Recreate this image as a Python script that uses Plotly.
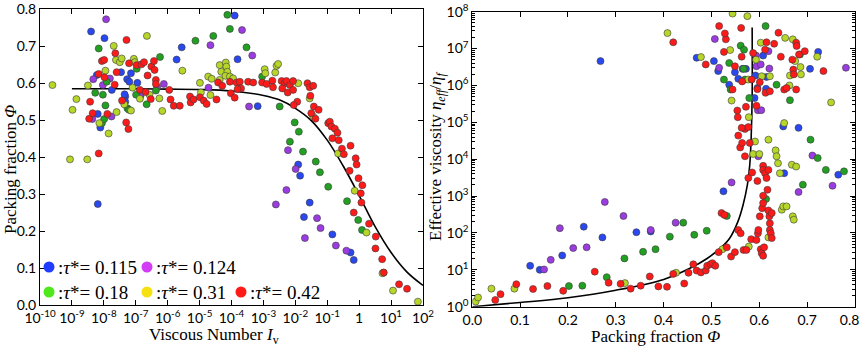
import plotly.graph_objects as go

# ---------------- Left panel: packing fraction vs viscous number ----------------
# log10(Iv) and phi for each tau* series
L_blue_logIv = [-8.40, -8.19, -8.19, -8.11, -8.22, -7.98, -7.75, -7.46, -7.33, -7.33, -7.35, -7.27, -7.20, -7.15,
                -6.95, -5.72, -5.56, -3.81, -3.90, -3.18, -1.91, -1.85, -1.55, -1.73, -0.84, -0.27, -0.17]
L_blue_phi = [0.740, 0.273, 0.517, 0.480, 0.622, 0.722, 0.582, 0.630, 0.564, 0.550, 0.570, 0.611, 0.604, 0.627,
              0.601, 0.664, 0.697, 0.665, 0.783, 0.538, 0.380, 0.350, 0.277, 0.238, 0.191, 0.142, 0.122]

L_purple_logIv = [-7.93, -8.33, -8.36, -8.03, -7.81, -7.76, -6.85, -6.33, -6.12, -4.66, -4.72, -3.67, -3.35, -3.45,
                  -2.61, -2.28, -2.23, -1.99, -1.70, -1.32, -1.21, -0.73, -0.40]
L_purple_phi = [0.773, 0.611, 0.503, 0.595, 0.613, 0.510, 0.566, 0.589, 0.598, 0.703, 0.588, 0.744, 0.675, 0.537,
                0.272, 0.311, 0.419, 0.368, 0.181, 0.235, 0.208, 0.161, 0.147]

L_green_logIv = [-8.16, -8.06, -8.03, -7.99, -7.95, -7.91, -8.27, -7.26, -7.21, -6.97, -6.99, -6.66, -6.37, -6.24,
                 -5.13, -4.57, -4.13, -4.05, -3.53, -3.04, -2.49, -2.17, -2.02, -1.89, -1.76, -1.36, -1.23, -0.97,
                 -0.38, -0.03, 0.09, 0.76]
L_green_phi = [0.694, 0.492, 0.569, 0.503, 0.540, 0.604, 0.574, 0.532, 0.528, 0.639, 0.569, 0.543, 0.580, 0.671,
               0.715, 0.728, 0.785, 0.747, 0.697, 0.618, 0.537, 0.442, 0.494, 0.469, 0.415, 0.388, 0.359, 0.320,
               0.281, 0.230, 0.203, 0.087]

L_yellow_logIv = [-9.61, -9.06, -8.98, -8.86, -8.52, -8.50, -8.14, -7.95, -7.85, -7.69, -7.62, -7.60, -7.50, -7.44,
                  -7.36, -7.15, -7.10, -7.06, -7.03, -6.87, -6.65, -6.57, -6.26, -6.17, -5.54, -4.99, -4.96, -4.73,
                  -4.62, -4.66, -4.37, -4.32, -4.18, -4.16, -4.13, -4.19, -4.05, -3.95, -4.37, -2.96, -2.94, -2.63,
                  -2.59, -2.54, -1.91, -1.55, -1.44, -0.66, -0.14, 0.23, 0.73, 1.06, 1.84]
L_yellow_phi = [0.595, 0.394, 0.528, 0.557, 0.394, 0.594, 0.492, 0.634, 0.464, 0.701, 0.663, 0.522, 0.657, 0.667,
                0.543, 0.526, 0.588, 0.666, 0.657, 0.558, 0.728, 0.569, 0.559, 0.525, 0.634, 0.601, 0.575, 0.618,
                0.612, 0.568, 0.649, 0.631, 0.656, 0.645, 0.631, 0.620, 0.618, 0.613, 0.609, 0.638, 0.627, 0.629,
                0.647, 0.652, 0.600, 0.559, 0.510, 0.410, 0.309, 0.196, 0.086, 0.039, 0.009]

L_red_logIv = [-8.43, -8.46, -8.35, -8.16, -8.16, -8.06, -7.99, -7.98, -7.89, -7.64, -7.60, -7.66, -7.43, -7.29,
               -7.30, -7.23, -7.21, -6.97, -6.87, -6.82, -6.74, -6.69, -6.63, -6.53, -6.51, -6.43, -6.41, -6.37,
               -6.37, -5.95, -5.91, -5.81, -5.62, -5.30, -5.28, -5.19, -4.99, -4.87, -4.78, -4.47, -4.42, -4.29,
               -4.02, -4.05, -3.90, -3.84, -3.74, -3.70, -3.81, -3.48, -3.32, -3.04, -2.90, -2.72, -2.70, -2.43,
               -2.33, -2.28, -2.41, -2.24, -2.17, -2.07, -2.07, -1.94, -2.05, -1.62, -1.55, -1.44, -1.53, -1.50,
               -1.42, -1.27, -1.37, -0.97, -0.92, -0.87, -0.84, -0.76, -0.68, -0.64, -0.54, -0.48, -0.27, -0.11,
               -0.08, -0.02, -0.30, 0.10, 0.05, 0.07, -0.17, 0.31, 0.52, 0.51, 0.72, 0.77, 1.25, 1.50]
L_red_phi = [0.550, 0.504, 0.519, 0.410, 0.625, 0.660, 0.663, 0.616, 0.517, 0.681, 0.630, 0.596, 0.553, 0.717,
             0.494, 0.476, 0.654, 0.649, 0.582, 0.651, 0.657, 0.576, 0.621, 0.557, 0.645, 0.660, 0.636, 0.609,
             0.598, 0.582, 0.556, 0.539, 0.539, 0.564, 0.548, 0.556, 0.562, 0.553, 0.544, 0.556, 0.602, 0.593,
             0.573, 0.604, 0.561, 0.602, 0.604, 0.586, 0.584, 0.604, 0.602, 0.602, 0.598, 0.607, 0.589, 0.606,
             0.600, 0.606, 0.586, 0.575, 0.595, 0.606, 0.582, 0.550, 0.541, 0.600, 0.589, 0.593, 0.566, 0.519,
             0.537, 0.528, 0.504, 0.492, 0.496, 0.483, 0.451, 0.477, 0.466, 0.446, 0.423, 0.408, 0.431, 0.397,
             0.380, 0.343, 0.363, 0.324, 0.302, 0.277, 0.250, 0.220, 0.185, 0.153, 0.124, 0.088, 0.056, 0.044]

# fitted curve
L_fit_logIv = [-9, -8, -7, -6, -5, -4, -3, -2.5, -2, -1.5, -1, -0.5, 0, 0.5, 1, 1.5, 2]
L_fit_phi = [0.585, 0.585, 0.585, 0.584, 0.583, 0.579, 0.567, 0.555, 0.532, 0.499, 0.446, 0.376, 0.296, 0.212,
             0.142, 0.089, 0.053]

# ---------------- Right panel: effective viscosity vs packing fraction ----------------
R_blue_phi = [0.121, 0.141, 0.188, 0.233, 0.272, 0.268, 0.343, 0.373, 0.469, 0.505, 0.514, 0.525, 0.537, 0.549,
              0.556, 0.565, 0.572, 0.590, 0.592, 0.596, 0.608, 0.614, 0.615, 0.650, 0.652, 0.682, 0.706, 0.723, 0.765]
R_blue_logeta = [1.11, 1.00, 1.39, 2.17, 1.88, 6.66, 2.02, 2.04, 6.75, 6.66, 6.39, 3.13, 6.02, 6.36,
                 6.18, 6.45, 6.45, 5.66, 6.27, 5.93, 6.81, 5.91, 6.23, 4.89, 3.62, 4.85, 6.45, 6.91, 3.58]

R_purple_phi = [0.150, 0.164, 0.183, 0.211, 0.239, 0.277, 0.316, 0.373, 0.425, 0.507, 0.516, 0.542, 0.593, 0.594,
                0.597, 0.603, 0.604, 0.619, 0.621, 0.598, 0.711, 0.682, 0.753, 0.781]
R_purple_logeta = [1.01, 1.27, 2.13, 1.59, 1.61, 2.84, 2.46, 2.08, 2.28, 7.26, 6.48, 3.37, 6.81, 6.52,
                   5.33, 6.57, 5.33, 6.93, 6.46, 4.08, 4.10, 3.11, 3.28, 6.48]

R_green_phi = [0.202, 0.230, 0.281, 0.318, 0.357, 0.383, 0.413, 0.441, 0.464, 0.490, 0.532, 0.526, 0.537, 0.540,
               0.561, 0.567, 0.568, 0.570, 0.579, 0.613, 0.614, 0.636, 0.664, 0.685, 0.691, 0.707, 0.722, 0.739, 0.777]
R_green_logeta = [0.56, 0.57, 0.80, 1.31, 1.49, 1.56, 1.90, 2.28, 1.95, 2.06, 2.46, 6.16, 6.61, 5.89,
                  7.08, 6.45, 6.97, 6.16, 5.66, 7.61, 2.92, 6.02, 5.60, 6.84, 3.31, 4.53, 4.03, 3.71, 3.67]

R_yellow_phi = [0.007, 0.012, 0.040, 0.088, 0.319, 0.408, 0.426, 0.478, 0.523, 0.539, 0.542, 0.544, 0.575, 0.577,
                0.578, 0.578, 0.591, 0.593, 0.603, 0.605, 0.587, 0.600, 0.619, 0.619, 0.634, 0.636, 0.639, 0.643,
                0.647, 0.650, 0.652, 0.654, 0.657, 0.663, 0.664, 0.668, 0.670, 0.675, 0.677, 0.670, 0.672, 0.686,
                0.687, 0.721, 0.750, 0.622]
R_yellow_logeta = [0.14, 0.25, 0.49, 0.49, 0.64, 7.42, 0.92, 6.77, 1.56, 6.96, 5.59, 7.95, 7.88, 6.16,
                   5.14, 1.63, 4.48, 6.70, 7.16, 6.25, 4.14, 4.14, 1.88, 4.53, 4.24, 4.08, 3.89, 3.62,
                   2.63, 2.72, 4.98, 7.29, 2.72, 6.00, 6.27, 3.85, 7.25, 6.66, 3.80, 2.45, 2.36, 6.50,
                   6.30, 6.78, 5.54, 6.25]

R_red_phi = [0.048, 0.059, 0.092, 0.127, 0.157, 0.190, 0.256, 0.285, 0.310, 0.331, 0.352, 0.371, 0.389, 0.407,
             0.420, 0.443, 0.452, 0.462, 0.469, 0.478, 0.488, 0.491, 0.498, 0.502, 0.508, 0.515, 0.521, 0.527,
             0.532, 0.541, 0.549, 0.556, 0.561, 0.567, 0.573, 0.583, 0.577, 0.585, 0.560, 0.556, 0.564, 0.570,
             0.577, 0.580, 0.570, 0.554, 0.555, 0.572, 0.563, 0.594, 0.596, 0.596, 0.597, 0.594, 0.598, 0.603,
             0.605, 0.608, 0.610, 0.601, 0.606, 0.608, 0.608, 0.608, 0.608, 0.612, 0.615, 0.617, 0.619, 0.619,
             0.621, 0.622, 0.622, 0.626, 0.624, 0.626, 0.544, 0.549, 0.526, 0.530, 0.516, 0.528, 0.563, 0.562,
             0.564, 0.584, 0.601, 0.612, 0.613, 0.615, 0.622, 0.631, 0.640, 0.645, 0.652, 0.657, 0.669, 0.671,
             0.672, 0.677, 0.678, 0.677, 0.683, 0.695, 0.734, 0.488, 0.420, 0.587]
R_red_logeta = [0.18, 0.34, 0.61, 0.48, 0.56, 0.43, 0.95, 0.65, 0.62, 0.49, 0.57, 0.82, 0.55, 0.54,
                0.89, 0.63, 0.92, 1.15, 0.98, 0.93, 0.98, 1.11, 1.15, 1.18, 1.11, 1.48, 2.54, 2.49,
                1.61, 1.36, 1.48, 2.08, 1.99, 1.54, 1.54, 1.83, 3.49, 3.64, 4.32, 4.64, 4.44, 4.82,
                4.87, 4.44, 4.08, 5.32, 5.14, 5.42, 4.85, 5.45, 5.90, 3.41, 1.99, 1.81, 2.08, 1.56,
                1.45, 1.38, 1.61, 2.45, 2.67, 2.81, 3.01, 3.82, 3.71, 3.62, 3.49, 3.17, 3.71, 2.61,
                2.45, 2.26, 2.08, 2.54, 1.99, 1.86, 5.89, 6.52, 6.91, 7.25, 7.61, 7.41, 6.78, 7.56,
                6.11, 6.16, 6.09, 6.97, 5.80, 7.17, 5.84, 7.13, 7.43, 6.78, 5.89, 5.93, 6.70, 6.43,
                6.30, 7.16, 7.07, 5.89, 6.84, 6.93, 6.39, 6.57, 7.17, 6.88]

# fitted curve
R_fit_phi = [0.0, 0.1, 0.2, 0.3, 0.4, 0.455, 0.49, 0.52, 0.538, 0.555, 0.566, 0.575, 0.580, 0.583, 0.585, 0.585]
R_fit_eta = [1.0, 1.3, 1.75, 2.8, 5.5, 11, 20, 40, 72, 200, 575, 2000, 7000, 4e4, 5e5, 3.7e7]

# tick labels
left_x_exps = list(range(-10, 3))
left_x_text = ["10<sup>%d</sup>" % e if e != 0 else "1" for e in left_x_exps]
right_x_vals = [0.0, 0.1, 0.2, 0.3, 0.4, 0.5, 0.6, 0.7, 0.8]
right_x_text = ["0.0", "0.1", "0.2", "0.3", "0.4", "0.5", "0.6", "0.7", "0.8\u00a0\u00a0\u00a0"]
right_y_exps = list(range(0, 9))
right_y_text = ["10<sup>%d</sup>" % e for e in right_y_exps]

# legend
legend_labels = ["0.115", "0.124", "0.18", "0.31", "0.42"]
point_colors = ["#2a48f0", "#9a3ce0", "#22a022", "#b6d62a", "#ff1a1a"]
legend_colors = ["#1f3cff", "#d23cf5", "#4ee81c", "#f5e010", "#ff1a1a"]

W, H = 862, 346
fig = go.Figure()

def pw(px):
    return px / W

def ph(py):
    return (H - py) / H

left_series = [(L_blue_logIv, L_blue_phi), (L_purple_logIv, L_purple_phi), (L_green_logIv, L_green_phi),
               (L_yellow_logIv, L_yellow_phi), (L_red_logIv, L_red_phi)]
right_series = [(R_blue_phi, R_blue_logeta), (R_purple_phi, R_purple_logeta), (R_green_phi, R_green_logeta),
                (R_yellow_phi, R_yellow_logeta), (R_red_phi, R_red_logeta)]

fig.add_trace(go.Scatter(x=[10 ** v for v in L_fit_logIv], y=L_fit_phi, mode="lines", line_shape="spline",
                         line=dict(color="black", width=1.6), xaxis="x", yaxis="y", showlegend=False,
                         hoverinfo="skip"))
fig.add_trace(go.Scatter(x=R_fit_phi, y=R_fit_eta, mode="lines", line_shape="spline",
                         line=dict(color="black", width=1.6), xaxis="x2", yaxis="y2", showlegend=False,
                         hoverinfo="skip"))

mk_line = dict(color="#3a3a3a", width=0.6)
for (xs, ys), c in zip(left_series, point_colors):
    fig.add_trace(go.Scatter(x=[10 ** v for v in xs], y=ys, mode="markers",
                             marker=dict(size=7, color=c, line=mk_line), xaxis="x", yaxis="y",
                             showlegend=False))
for (xs, ys), c in zip(right_series, point_colors):
    fig.add_trace(go.Scatter(x=xs, y=[10 ** v for v in ys], mode="markers",
                             marker=dict(size=7, color=c, line=mk_line), xaxis="x2", yaxis="y2",
                             showlegend=False))

tickfont = dict(family="Lato", size=14, color="black")
axis_common = dict(showgrid=False, zeroline=False, showline=True, linecolor="black", linewidth=1,
                   mirror="allticks", ticks="inside", ticklen=5, tickcolor="black", tickfont=tickfont,
                   automargin=False, ticklabeloverflow="allow")

fig.update_layout(
    width=W, height=H, margin=dict(l=0, r=0, t=0, b=0, autoexpand=False),
    paper_bgcolor="white", plot_bgcolor="white", showlegend=False,
    xaxis=dict(type="log", range=[-10, 2], domain=[pw(40), pw(423)], anchor="y",
               tickvals=[10 ** e for e in left_x_exps], ticktext=left_x_text, **axis_common),
    yaxis=dict(range=[0, 0.8], domain=[ph(305), ph(9.3)], anchor="x", dtick=0.1, tickformat=".1f",
               **axis_common),
    xaxis2=dict(range=[0, 0.8], domain=[pw(472.3), pw(855)], anchor="y2",
                tickvals=right_x_vals, ticktext=right_x_text, **axis_common),
    yaxis2=dict(type="log", range=[0, 8], domain=[ph(306.7), ph(11.7)], anchor="x2",
                tickvals=[10 ** e for e in right_y_exps], ticktext=right_y_text,
                minor=dict(ticks="inside", ticklen=3, tickcolor="black", dtick="D1", showgrid=False),
                **axis_common),
)

serif = "Liberation Serif"
ann = []
ann.append(dict(text="Viscous Number <i>I</i><sub>v</sub>", x=pw(214), y=ph(336), xref="paper", yref="paper",
                showarrow=False, font=dict(family=serif, size=17, color="black"), xanchor="center", yanchor="middle"))
ann.append(dict(text="Packing fraction <i>Φ</i>", x=pw(655), y=ph(336), xref="paper", yref="paper",
                showarrow=False, font=dict(family=serif, size=17, color="black"), xanchor="center", yanchor="middle"))
ann.append(dict(text="Packing fraction <i>Φ</i>", x=pw(10), y=ph(170), xref="paper", yref="paper",
                showarrow=False, textangle=-90, font=dict(family=serif, size=17, color="black"),
                xanchor="center", yanchor="middle"))
ann.append(dict(text="Effective viscosity <i>η</i><sub><i>eff</i></sub>/<i>η</i><sub><i>f</i></sub>",
                x=pw(437), y=ph(157), xref="paper", yref="paper", showarrow=False, textangle=-90,
                font=dict(family=serif, size=17, color="black"), xanchor="center", yanchor="middle"))

# legend (two rows, drawn inside the left panel)
leg_pos = [(49, 267), (147, 267), (49, 292), (147, 292), (241, 292)]
shapes = []
for (cx, cy), col, lab in zip(leg_pos, legend_colors, legend_labels):
    shapes.append(dict(type="circle", xref="paper", yref="paper", xsizemode="pixel", ysizemode="pixel",
                       xanchor=pw(cx), yanchor=ph(cy), x0=-5.5, x1=5.5, y0=-5.5, y1=5.5,
                       fillcolor=col, line=dict(width=0)))
    ann.append(dict(text=":<i>τ</i>*= " + lab, x=pw(cx + 7), y=ph(cy), xref="paper", yref="paper",
                    showarrow=False, xanchor="left", yanchor="middle",
                    font=dict(family=serif, size=19, color="black")))

fig.update_layout(annotations=ann, shapes=shapes)
fig.write_html("out.html", config={"displayModeBar": False},
               post_script="document.body.style.margin='0px';document.body.style.overflow='hidden';")
